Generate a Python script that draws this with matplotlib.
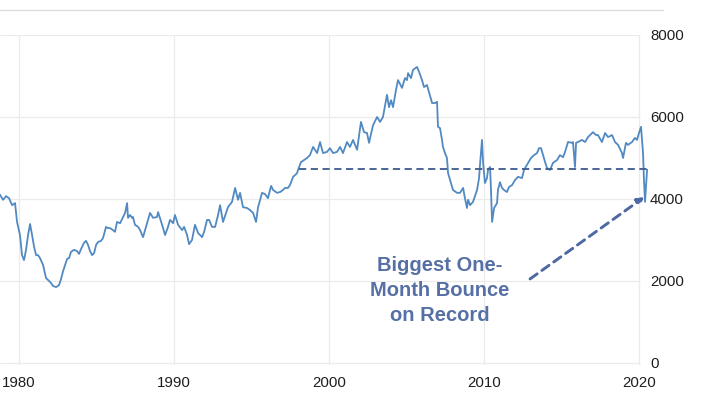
import matplotlib
matplotlib.use("Agg")
import matplotlib.pyplot as plt
from matplotlib.lines import Line2D

plt.rcParams['font.family'] = ['Liberation Sans', 'DejaVu Sans']

years = [1978.77, 1978.97, 1979.16, 1979.35, 1979.55, 1979.74, 1979.87, 1980.06, 1980.19, 1980.32,
         1980.45, 1980.58, 1980.71, 1980.84, 1980.97, 1981.10, 1981.23, 1981.35, 1981.55, 1981.74,
         1981.94, 1982.06, 1982.19, 1982.39, 1982.58, 1982.71, 1982.84, 1982.97, 1983.10, 1983.23,
         1983.35, 1983.55, 1983.74, 1983.87, 1984.00, 1984.19, 1984.32, 1984.45, 1984.58, 1984.71,
         1984.84, 1984.97, 1985.10, 1985.29, 1985.42, 1985.61, 1985.74, 1985.87, 1986.06, 1986.19,
         1986.32, 1986.52, 1986.71, 1986.84, 1986.97, 1987.03, 1987.16, 1987.29, 1987.35, 1987.48,
         1987.68, 1987.81, 1988.00, 1988.26, 1988.45, 1988.65, 1988.90, 1988.97, 1989.23, 1989.42,
         1989.61, 1989.74, 1989.94, 1990.06, 1990.26, 1990.52, 1990.65, 1990.84, 1990.97, 1991.16,
         1991.35, 1991.55, 1991.81, 1991.94, 1992.13, 1992.26, 1992.45, 1992.65, 1992.84, 1992.97,
         1993.16, 1993.48, 1993.74, 1993.94, 1994.13, 1994.26, 1994.45, 1994.71, 1994.90, 1995.10,
         1995.29, 1995.42, 1995.68, 1995.87, 1996.06, 1996.26, 1996.39, 1996.65, 1996.84, 1997.03,
         1997.16, 1997.35, 1997.48, 1997.68, 1997.94, 1998.00, 1998.19, 1998.39, 1998.58, 1998.77,
         1998.97, 1999.23, 1999.42, 1999.61, 1999.87, 2000.06, 2000.26, 2000.52, 2000.71, 2000.90,
         2001.16, 2001.35, 2001.55, 2001.81, 2002.06, 2002.26, 2002.45, 2002.58, 2002.84, 2003.10,
         2003.29, 2003.48, 2003.74, 2003.87, 2004.00, 2004.13, 2004.32, 2004.45, 2004.71, 2004.90,
         2005.03, 2005.10, 2005.29, 2005.42, 2005.68, 2005.81, 2006.00, 2006.13, 2006.32, 2006.45,
         2006.65, 2006.84, 2006.97, 2007.03, 2007.16, 2007.29, 2007.35, 2007.48, 2007.61, 2007.68,
         2007.81, 2008.00, 2008.26, 2008.45, 2008.65, 2008.77, 2008.90, 2008.97, 2009.10, 2009.29,
         2009.55, 2009.68, 2009.74, 2009.87, 2009.94, 2010.06, 2010.19, 2010.26, 2010.39, 2010.45,
         2010.52, 2010.65, 2010.84, 2010.90, 2011.03, 2011.16, 2011.29, 2011.48, 2011.61, 2011.81,
         2012.00, 2012.19, 2012.45, 2012.58, 2012.84, 2013.03, 2013.23, 2013.42, 2013.55, 2013.68,
         2013.94, 2014.06, 2014.26, 2014.45, 2014.71, 2014.90, 2015.10, 2015.23, 2015.42, 2015.68,
         2015.74, 2015.87, 2015.94, 2016.06, 2016.32, 2016.52, 2016.71, 2016.97, 2017.03, 2017.23,
         2017.35, 2017.61, 2017.81, 2018.00, 2018.26, 2018.45, 2018.65, 2018.90, 2018.97, 2019.16,
         2019.29, 2019.55, 2019.74, 2019.87, 2020.00, 2020.13, 2020.26, 2020.32, 2020.39, 2020.52]

sales = [4100, 3980, 4070, 4020, 3850, 3900, 3440, 3120, 2630, 2510,
         2760, 3120, 3390, 3120, 2830, 2630, 2630, 2560, 2390, 2070,
         2000, 1950, 1880, 1850, 1900, 2050, 2240, 2390, 2540, 2560,
         2710, 2760, 2730, 2660, 2780, 2930, 2980, 2880, 2730, 2630,
         2680, 2880, 2950, 2980, 3050, 3320, 3290, 3290, 3240, 3200,
         3440, 3410, 3560, 3660, 3900, 3540, 3610, 3540, 3560, 3370,
         3320, 3240, 3070, 3410, 3660, 3540, 3560, 3680, 3370, 3120,
         3320, 3490, 3410, 3610, 3370, 3240, 3320, 3120, 2900, 3000,
         3370, 3170, 3070, 3200, 3490, 3490, 3320, 3320, 3610, 3850,
         3440, 3800, 3930, 4270, 3980, 4150, 3800, 3780, 3730, 3660,
         3440, 3800, 4150, 4120, 4020, 4320, 4220, 4150, 4170, 4220,
         4270, 4270, 4340, 4540, 4630, 4710, 4900, 4950, 5000, 5070,
         5270, 5120, 5390, 5120, 5150, 5240, 5120, 5150, 5270, 5120,
         5390, 5270, 5440, 5200, 5880, 5630, 5610, 5370, 5800, 6000,
         5880, 6000, 6540, 6240, 6410, 6240, 6660, 6900, 6710, 6950,
         6900, 7070, 6950, 7150, 7220, 7100, 6900, 6730, 6780, 6610,
         6340, 6340, 6370, 5760, 5730, 5440, 5270, 5120, 5000, 4630,
         4460, 4220, 4150, 4150, 4270, 4020, 3780, 3980, 3850, 3930,
         4220, 4510, 4830, 5440, 4880, 4390, 4510, 4710, 4780, 4220,
         3440, 3780, 3900, 4220, 4410, 4270, 4220, 4170, 4290, 4340,
         4460, 4540, 4510, 4710, 4880, 5000, 5070, 5120, 5240, 5240,
         4900, 4760, 4710, 4880, 4950, 5070, 5020, 5150, 5390, 5370,
         5390, 4780, 5370, 5390, 5440, 5390, 5510, 5610, 5630, 5560,
         5560, 5390, 5610, 5510, 5560, 5390, 5320, 5120, 5000, 5370,
         5320, 5390, 5490, 5440, 5610, 5760, 5120, 4460, 3930, 4710]

x_ticks = [1980, 1990, 2000, 2010, 2020]
y_ticks = [0, 2000, 4000, 6000, 8000]
level_value = 4730
level_start = 1998.06
level_end = 2020.65
note_lines = ["Biggest One-", "Month Bounce", "on Record"]

W, H = 720, 405
fig = plt.figure(figsize=(W / 100, H / 100), dpi=100)
ax = fig.add_axes([0, (H - 365) / H, 650 / W, 330 / H])
ax.set_xlim(1978.77, 1980 + (650 - 19) / 15.5)
ax.set_ylim(-49, 8000)

grid_c = '#ebebeb'
ax.hlines(y_ticks, 1978.77, 2020.05, color=grid_c, lw=0.9, zorder=0)
ax.vlines(x_ticks, -49, 8000, color=grid_c, lw=0.9, zorder=0)

ax.plot(years, sales, color='#5189c2', lw=1.3, zorder=3, clip_on=False)
ax.plot([level_start, level_end], [level_value, level_value], color='#3e5a8c',
        lw=1.3, ls=(0, (4, 2.5)), zorder=4, clip_on=False)

for s in ax.spines.values():
    s.set_visible(False)
ax.set_xticks(x_ticks)
ax.set_xticklabels([str(t) for t in x_ticks])
ax.yaxis.tick_right()
ax.set_yticks(y_ticks)
ax.set_yticklabels([str(t) for t in y_ticks])
ax.tick_params(axis='both', length=0, labelsize=10.8, colors='#1e1e1e')
ax.tick_params(axis='x', pad=8)
ax.tick_params(axis='y', pad=0)

ax.annotate('', xy=(2020.35, 4050), xytext=(2012.97, 2050),
            arrowprops=dict(arrowstyle='-|>', color='#4d68a2', lw=2.1,
                            linestyle=(0, (3, 2)), mutation_scale=10,
                            shrinkA=0, shrinkB=0), zorder=5)

for txt, yv in zip(note_lines, [2370, 1780, 1170]):
    ax.text(2007.16, yv, txt, ha='center', va='center', fontsize=14.5,
            fontweight='bold', color='#5670a6', zorder=6)

fig.add_artist(Line2D([0, 663 / W], [1 - 10 / H, 1 - 10 / H], color='#dcdcdc', lw=1.0))

fig.savefig('out.png', dpi=100, facecolor='white')
